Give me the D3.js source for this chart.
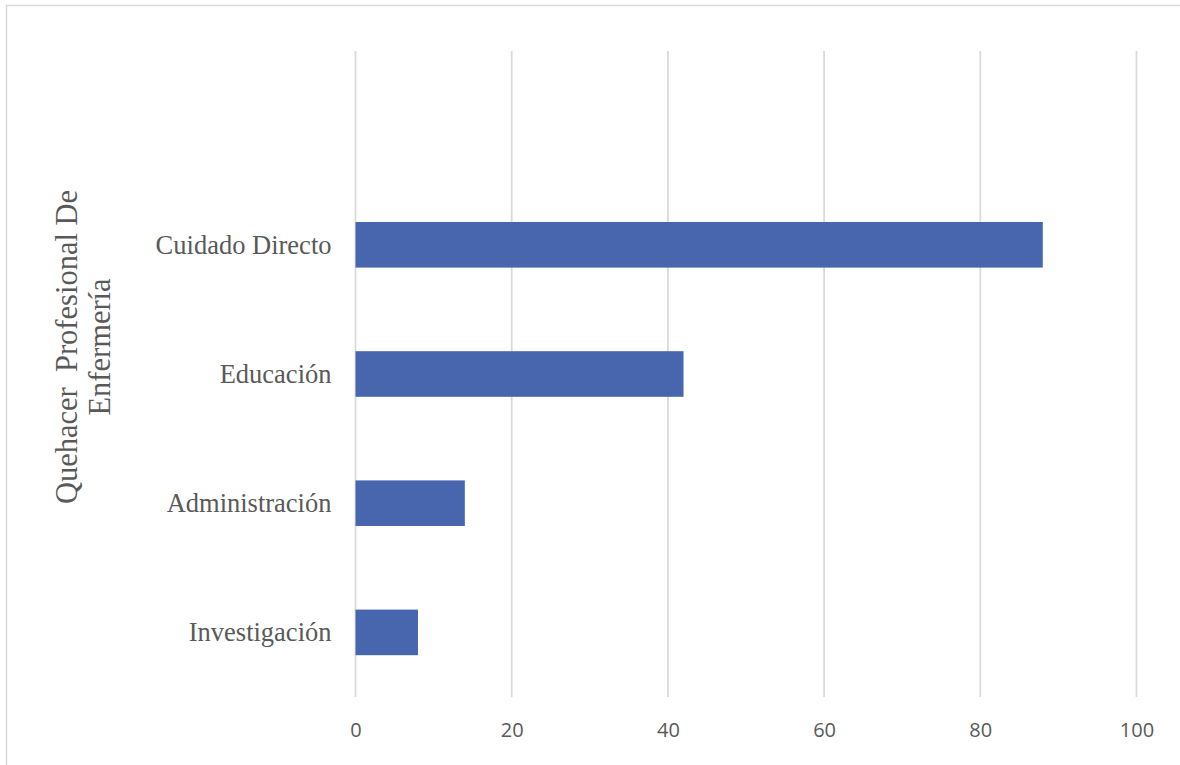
<!DOCTYPE html>
<html>
<head>
<meta charset="utf-8">
<script src="https://cdn.jsdelivr.net/npm/d3@7"></script>
<style>
  html, body { margin: 0; padding: 0; background: #ffffff; }
  svg { display: block; }
</style>
</head>
<body>
<svg id="chart" width="1180" height="765"></svg>
<script>
// Categories from top to bottom; the first slot is an empty row of the sheet.
const categories = ["", "Cuidado Directo", "Educación", "Administración", "Investigación"];
const values = [null, 88, 42, 14, 8];
const xTicks = [0, 20, 40, 60, 80, 100];
const titleLines = ["Quehacer  Profesional De", "Enfermería"];

const W = 1180, H = 765;
const plot = { left: 355.5, right: 1136.5, top: 51, bottom: 697 };

const svg = d3.select("#chart");

// Chart area frame
svg.append("rect")
  .attr("x", 6.5).attr("y", 5.5)
  .attr("width", W + 40).attr("height", H + 40)
  .attr("fill", "#ffffff")
  .attr("stroke", "#d9d9d9")
  .attr("stroke-width", 1.5);

const x = d3.scaleLinear().domain([0, 100]).range([plot.left, plot.right]);
const gap = 0.647;
const y = d3.scaleBand()
  .domain(categories)
  .range([plot.top, plot.bottom])
  .paddingInner(gap)
  .paddingOuter(gap / 2);

// Vertical gridlines
svg.append("g")
  .selectAll("line")
  .data(xTicks)
  .join("line")
  .attr("x1", d => x(d)).attr("x2", d => x(d))
  .attr("y1", plot.top).attr("y2", plot.bottom)
  .attr("stroke", "#d9d9d9")
  .attr("stroke-width", 1.75);

// Bars
const rows = categories.map((c, i) => ({ c, v: values[i] })).filter(d => d.v != null);
svg.append("g")
  .selectAll("rect")
  .data(rows)
  .join("rect")
  .attr("x", x(0))
  .attr("y", d => y(d.c))
  .attr("width", d => x(d.v) - x(0))
  .attr("height", y.bandwidth())
  .attr("fill", "#4866ad");

// Value axis along the bottom
const xAxis = svg.append("g")
  .attr("transform", `translate(0,${plot.bottom})`)
  .call(d3.axisBottom(x).tickValues(xTicks).tickSize(0).tickPadding(25.8));
xAxis.select(".domain").remove();
xAxis.selectAll("text")
  .attr("fill", "#595959")
  .style("font-family", "'Open Sans', sans-serif")
  .style("font-size", "20px");

// Category axis
const yAxis = svg.append("g")
  .attr("transform", `translate(${plot.left},0)`)
  .call(d3.axisLeft(y).tickSize(0).tickPadding(24));
yAxis.select(".domain").remove();
yAxis.selectAll("text")
  .attr("fill", "#595959")
  .attr("dy", "0.34em")
  .style("font-family", "'Liberation Serif', 'Times New Roman', serif")
  .style("font-size", "26.5px");

// Axis title, rotated, two lines
const title = svg.append("text")
  .attr("transform", "rotate(-90)")
  .attr("text-anchor", "middle")
  .attr("fill", "#595959")
  .style("font-family", "'Liberation Serif', 'Times New Roman', serif")
  .style("font-size", "30.5px")
  .style("white-space", "pre");
title.selectAll("tspan")
  .data(titleLines)
  .join("tspan")
  .attr("x", -347)
  .attr("y", (d, i) => 77 + i * 33)
  .text(d => d);
</script>
</body>
</html>
